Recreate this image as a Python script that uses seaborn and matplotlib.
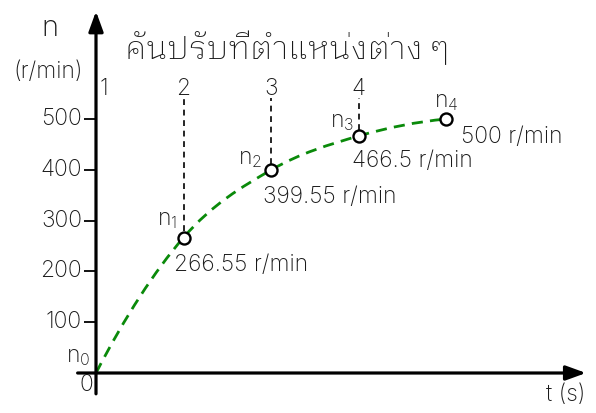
import numpy as np
import matplotlib
matplotlib.use("Agg")
import matplotlib.pyplot as plt
import seaborn as sns
import pandas as pd
from matplotlib.path import Path
from matplotlib.patches import PathPatch

# ---- data ---------------------------------------------------------------
time_s = [0, 1, 2, 3, 4]
speed_rpm = [0, 266.55, 399.55, 466.5, 500]
point_names = ["$n_0$", "$n_1$", "$n_2$", "$n_3$", "$n_4$"]
value_labels = ["", "266.55 r/min", "399.55 r/min", "466.5 r/min", "500 r/min"]
lever_labels = ["1", "2", "3", "4"]
lever_time = [0, 1, 2, 3]
y_ticks = [100, 200, 300, 400, 500]
title_text = "คันปรับที่ตำแหน่งต่าง ๆ"

# ---- style --------------------------------------------------------------
sns.set_theme(style="white")
plt.rcParams["font.family"] = ["Inter", "IBM Plex Sans Thai Looped", "DejaVu Sans"]
plt.rcParams["font.weight"] = "light"
plt.rcParams["mathtext.fontset"] = "custom"
plt.rcParams["mathtext.rm"] = "Inter:weight=light"
plt.rcParams["mathtext.it"] = "Inter:weight=light"
plt.rcParams["mathtext.default"] = "regular"

FS = 16.5
INK = "#1a1a1a"
W, H = 596, 413
fig = plt.figure(figsize=(W / 100, H / 100), dpi=100)
ax = fig.add_axes([0, 0, 1, 1])

px_per_t = 87.5
px_per_n = 0.508
x0_px, y0_px = 96, 373
ax.set_xlim(-x0_px / px_per_t, (W - x0_px) / px_per_t)
ax.set_ylim(-(H - y0_px) / px_per_n, y0_px / px_per_n)

for s in ax.spines.values():
    s.set_visible(False)
ax.set_xticks([])
ax.set_yticks([])

# ---- axes with arrows ---------------------------------------------------
axis_kw = dict(arrowstyle="-|>,head_length=0.55,head_width=0.2", color="black",
               lw=2.3, mutation_scale=22, shrinkA=0, shrinkB=0)
ax.annotate("", xy=(5.6, 0), xytext=(-0.21, 0), arrowprops=axis_kw, zorder=3)
ax.annotate("", xy=(0, 712), xytext=(0, -41), arrowprops=axis_kw, zorder=3)

# y ticks and labels
tick_len = 12 / px_per_t
ax.hlines(y_ticks, -tick_len, 0, color="black", lw=1.3, zorder=3)
for v in y_ticks:
    ax.text(-tick_len - 2 / px_per_t, v, str(v), ha="right", va="center",
            fontsize=FS, color=INK)
ax.text(-10 / px_per_t, -12 / px_per_n, "0", ha="center", va="center",
        fontsize=FS, color=INK)

# axis titles
ax.text(-46 / px_per_t, (y0_px - 28) / px_per_n, "n", ha="center",
        va="center", fontsize=21, color=INK)
ax.text(-48 / px_per_t, (y0_px - 72) / px_per_n, "(r/min)", ha="center",
        va="center", fontsize=FS, color=INK)
ax.text((585 - x0_px) / px_per_t, -22 / px_per_n, "t (s)", ha="right",
        va="center", fontsize=FS, color=INK)

# title
ax.text((125 - x0_px) / px_per_t, (y0_px - 49) / px_per_n, title_text,
        ha="left", va="center", fontsize=23, color=INK,
        family=["IBM Plex Sans Thai Looped", "DejaVu Sans"])

# ---- speed curve (cubic Hermite through the measured points) ------------
t = np.array(time_s, float)
n = np.array(speed_rpm, float)
m = np.empty_like(n)
m[1:-1] = (n[2:] - n[:-2]) / (t[2:] - t[:-2])
m[0] = 2 * (n[1] - n[0]) / (t[1] - t[0]) - m[1]
m[-1] = 2 * (n[-1] - n[-2]) / (t[-1] - t[-2]) - m[-2]
verts = [(t[0], n[0])]
codes = [Path.MOVETO]
for i in range(len(t) - 1):
    h = t[i + 1] - t[i]
    verts += [(t[i] + h / 3, n[i] + m[i] * h / 3),
              (t[i + 1] - h / 3, n[i + 1] - m[i + 1] * h / 3),
              (t[i + 1], n[i + 1])]
    codes += [Path.CURVE4] * 3
ax.add_patch(PathPatch(Path(verts, codes), fill=False, edgecolor="#0a8a0a",
                       lw=2.0, linestyle=(0, (4, 2.6)), zorder=2))

# ---- lever guides -------------------------------------------------------
guide_top = (y0_px - 98) / px_per_n
for lbl, lt in zip(lever_labels, lever_time):
    ax.text(lt + (8 / px_per_t if lt == 0 else 0), (y0_px - 89) / px_per_n,
            lbl, ha="center", va="center", fontsize=FS, color=INK)
for i in (1, 2, 3):
    ax.vlines(time_s[i], speed_rpm[i] + 12, guide_top, color="black",
              lw=1.2, linestyles=(0, (3.5, 2.8)), zorder=2)

# ---- points -------------------------------------------------------------
pts = pd.DataFrame({"t": time_s[1:], "n": speed_rpm[1:]})
sns.scatterplot(data=pts, x="t", y="n", ax=ax, s=75, facecolor="white",
                edgecolor="black", linewidth=1.7, zorder=4, legend=False)

# name labels (offsets in pixels from the point)
name_off = [(-6, 5, "right"), (-6, 7, "right"), (-9, 0, "right"),
            (-4, 3, "right"), (0, 6, "center")]
for i, (dx, dy, ha) in enumerate(name_off):
    ax.annotate(point_names[i], (time_s[i], speed_rpm[i]), xytext=(dx, dy),
                textcoords="offset pixels", ha=ha, va="bottom",
                fontsize=FS, color=INK)

value_off = [None, (-9, -16, "left", "top"), (-8, -16, "left", "top"),
             (-6, -14, "left", "top"), (15, -7, "left", "top")]
for i in range(1, 5):
    dx, dy, ha, va = value_off[i]
    ax.annotate(value_labels[i], (time_s[i], speed_rpm[i]), xytext=(dx, dy),
                textcoords="offset pixels", ha=ha, va=va, fontsize=FS,
                color=INK)

fig.savefig("out.png", dpi=100)
